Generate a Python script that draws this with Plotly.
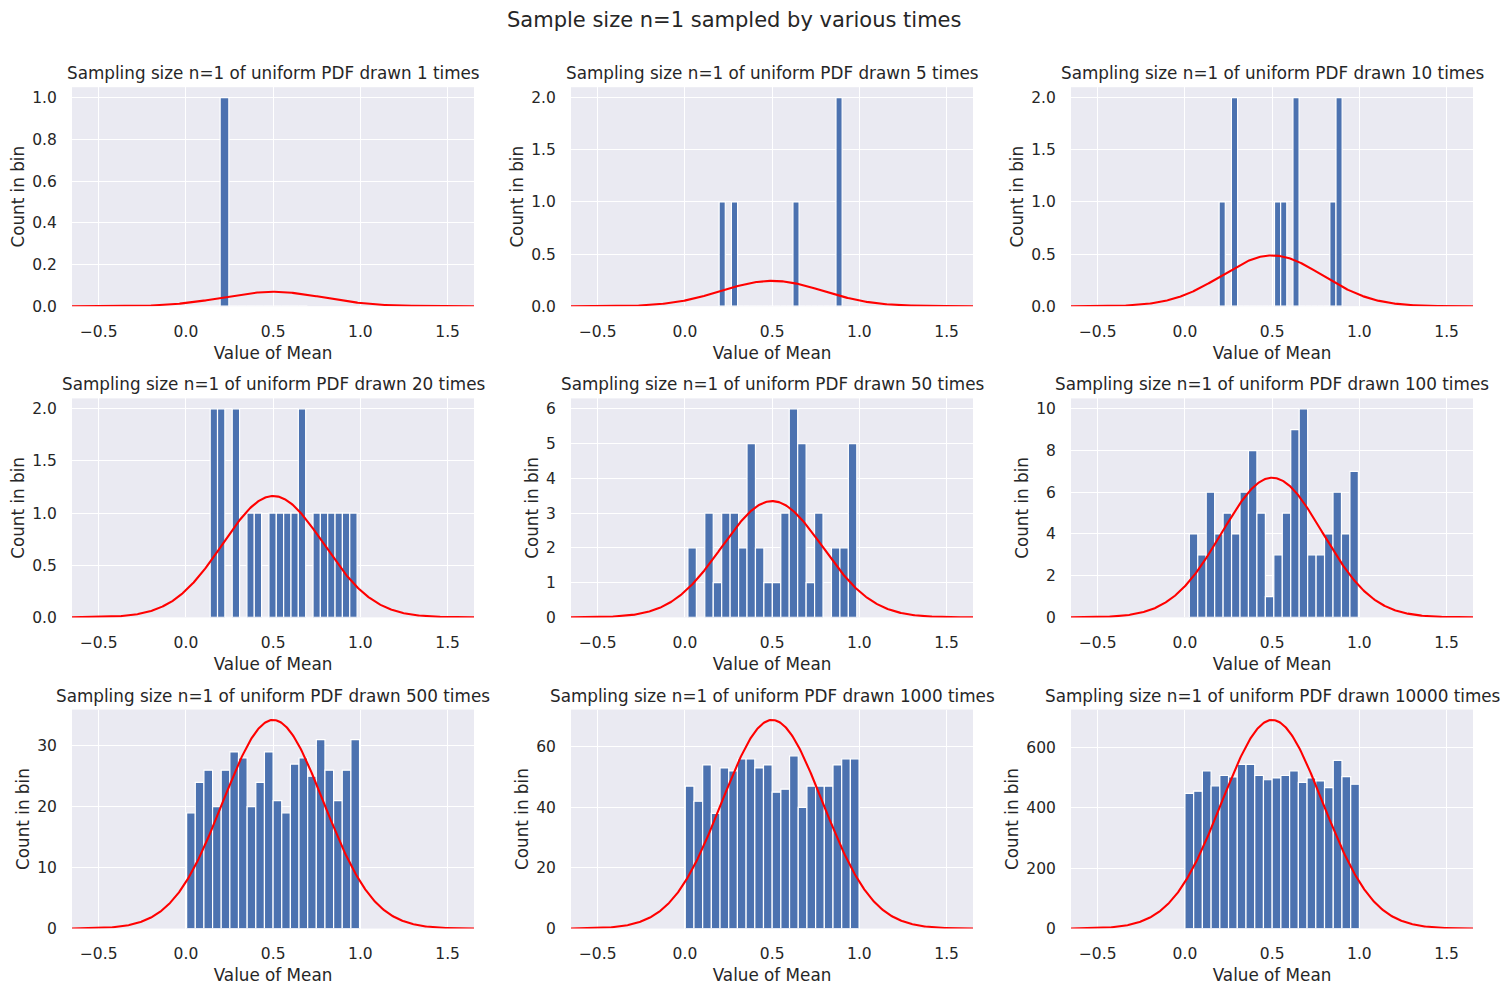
import numpy as np
import plotly.graph_objects as go

# ---------------- data ----------------
draws = [1, 5, 10, 20, 50, 100, 500, 1000, 10000]

# histogram range (min, max of the drawn values) per panel, 20 bins each
hist_lo = [-0.304, 0.196, 0.196, 0.139, 0.017, 0.025, 0.004, 0.002, 0.000]
hist_hi = [0.696, 0.901, 0.901, 0.981, 0.985, 0.994, 0.995, 0.998, 1.000]

counts_1 = [0, 0, 0, 0, 0, 0, 0, 0, 0, 0, 1, 0, 0, 0, 0, 0, 0, 0, 0, 0]
counts_5 = [1, 0, 1, 0, 0, 0, 0, 0, 0, 0, 0, 0, 1, 0, 0, 0, 0, 0, 0, 2]
counts_10 = [1, 0, 2, 0, 0, 0, 0, 0, 0, 1, 1, 0, 2, 0, 0, 0, 0, 0, 1, 2]
counts_20 = [2, 2, 0, 2, 0, 1, 1, 0, 1, 1, 1, 1, 2, 0, 1, 1, 1, 1, 1, 1]
counts_50 = [2, 0, 3, 1, 3, 3, 2, 5, 2, 1, 1, 3, 6, 5, 1, 3, 0, 2, 2, 5]
counts_100 = [4, 3, 6, 4, 5, 4, 6, 8, 5, 1, 3, 5, 9, 10, 3, 3, 4, 6, 4, 7]
counts_500 = [19, 24, 26, 20, 26, 29, 28, 20, 24, 29, 21, 19, 27, 28, 25, 31, 26, 21, 26, 31]
counts_1000 = [47, 42, 54, 38, 53, 52, 56, 56, 53, 54, 45, 46, 57, 40, 47, 47, 47, 54, 56, 56]
counts_10000 = [448, 455, 522, 473, 507, 502, 544, 544, 507, 493, 499, 507, 522, 484, 499, 489,
                467, 557, 503, 478]
all_counts = [counts_1, counts_5, counts_10, counts_20, counts_50, counts_100,
              counts_500, counts_1000, counts_10000]

# normal curve parameters (uniform(0,1) mean / std)
curve_mu = 0.5
curve_sigma = np.sqrt(1.0 / 12.0)

x_tick_vals = [-0.5, 0.0, 0.5, 1.0, 1.5]
x_tick_text = ["\u22120.5", "0.0", "0.5", "1.0", "1.5"]

y_tick_vals = [
    [0.0, 0.2, 0.4, 0.6, 0.8, 1.0],
    [0.0, 0.5, 1.0, 1.5, 2.0],
    [0.0, 0.5, 1.0, 1.5, 2.0],
    [0.0, 0.5, 1.0, 1.5, 2.0],
    [0, 1, 2, 3, 4, 5, 6],
    [0, 2, 4, 6, 8, 10],
    [0, 10, 20, 30],
    [0, 20, 40, 60],
    [0, 200, 400, 600],
]
y_tick_text = [
    ["0.0", "0.2", "0.4", "0.6", "0.8", "1.0"],
    ["0.0", "0.5", "1.0", "1.5", "2.0"],
    ["0.0", "0.5", "1.0", "1.5", "2.0"],
    ["0.0", "0.5", "1.0", "1.5", "2.0"],
    ["0", "1", "2", "3", "4", "5", "6"],
    ["0", "2", "4", "6", "8", "10"],
    ["0", "10", "20", "30"],
    ["0", "20", "40", "60"],
    ["0", "200", "400", "600"],
]

suptitle = "Sample size n=1 sampled by various times"
title_fmt = "Sampling size n=1 of uniform PDF drawn {} times"
x_title = "Value of Mean"
y_title = "Count in bin"

# ---------------- layout geometry ----------------
W, H = 1512, 999
col_left = [72, 571, 1071]
row_top = [88, 402, 716]
pw, ph = 402, 221
x_range = [-0.653, 1.651]

BAR = "#4C72B0"
BG = "#EAEAF2"
TXT = "#262626"
FONT = "DejaVu Sans"

fig = go.Figure()
annotations = []

for i in range(9):
    r, c = divmod(i, 3)
    ax = "" if i == 0 else str(i + 1)
    counts = np.array(all_counts[i], dtype=float)
    edges = np.linspace(hist_lo[i], hist_hi[i], 21)
    bw = edges[1] - edges[0]
    centers = 0.5 * (edges[:-1] + edges[1:])

    fig.add_trace(go.Bar(
        x=centers, y=counts, width=bw,
        marker=dict(color=BAR, line=dict(color="white", width=1.2)),
        xaxis="x" + ax, yaxis="y" + ax, showlegend=False, hoverinfo="x+y",
    ))

    xs = np.linspace(x_range[0], x_range[1], 500)
    pdf = np.exp(-0.5 * ((xs - curve_mu) / curve_sigma) ** 2) / (curve_sigma * np.sqrt(2 * np.pi))
    ys = draws[i] * bw * pdf
    fig.add_trace(go.Scatter(
        x=xs, y=ys, mode="lines", line=dict(color="red", width=2.1),
        xaxis="x" + ax, yaxis="y" + ax, showlegend=False, hoverinfo="skip",
    ))

    ytop = 1.05 * max(counts.max(), ys.max())

    x0 = col_left[c] / W
    x1 = (col_left[c] + pw) / W
    y1 = 1 - row_top[r] / H
    y0 = 1 - (row_top[r] + ph) / H

    axis_common = dict(
        showgrid=True, gridcolor="white", gridwidth=1.4, zeroline=False,
        showline=False, ticks="outside", tickcolor="rgba(0,0,0,0)",
        tickfont=dict(family=FONT, size=15.5, color=TXT),
        title_font=dict(family=FONT, size=16.8, color=TXT),
    )
    fig.update_layout(**{
        "xaxis" + ax: dict(
            domain=[x0, x1], anchor="y" + ax, range=x_range,
            tickmode="array", tickvals=x_tick_vals, ticktext=x_tick_text,
            ticklen=11, title=dict(text=x_title, standoff=7), **axis_common),
        "yaxis" + ax: dict(
            domain=[y0, y1], anchor="x" + ax, range=[0, ytop],
            tickmode="array", tickvals=y_tick_vals[i], ticktext=y_tick_text[i],
            ticklen=11, title=dict(text=y_title, standoff=3), **axis_common),
    })

    annotations.append(dict(
        text=title_fmt.format(draws[i]), xref="paper", yref="paper",
        x=(col_left[c] + pw / 2) / W, y=1 - (row_top[r] - 2) / H,
        xanchor="center", yanchor="bottom", showarrow=False,
        font=dict(family=FONT, size=16.8, color=TXT),
    ))

annotations.append(dict(
    text=suptitle, xref="paper", yref="paper", x=734 / W, y=1 - 20 / H,
    xanchor="center", yanchor="middle", showarrow=False,
    font=dict(family=FONT, size=21, color=TXT),
))

fig.update_layout(
    width=W, height=H, margin=dict(l=0, r=0, t=0, b=0),
    paper_bgcolor="white", plot_bgcolor=BG, barmode="overlay",
    annotations=annotations, font=dict(family=FONT, color=TXT),
)

fig.write_html("out.html")
